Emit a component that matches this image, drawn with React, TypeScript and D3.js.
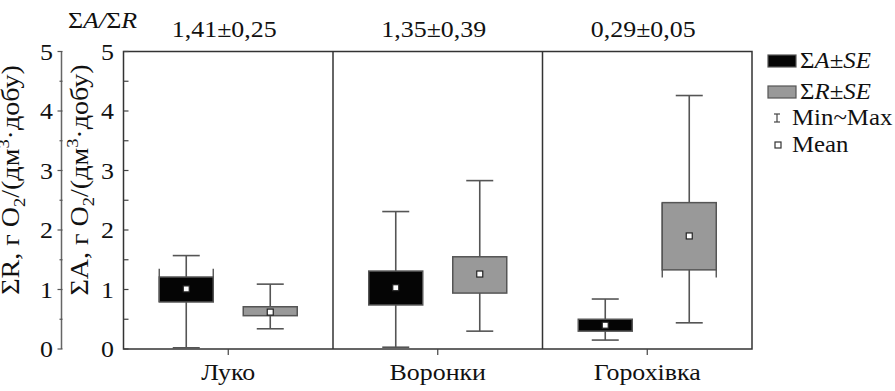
import React, { useEffect, useRef } from 'react';
import * as d3 from 'd3';

const categories = ['Луко', 'Воронки', 'Горохівка'];
const ratioLabels = ['1,41±0,25', '1,35±0,39', '0,29±0,05'];
const yTicks = [0, 1, 2, 3, 4, 5];
const yMinorTicks = [0.5, 1.5, 2.5, 3.5, 4.5];

// ΣA (black boxes)
const aMin = [0.02, 0.03, 0.15];
const aLow = [0.79, 0.74, 0.3];
const aMean = [1.01, 1.03, 0.4];
const aHigh = [1.21, 1.31, 0.5];
const aMax = [1.57, 2.31, 0.84];
const aEdge = [[0.79, 1.35], null, null];

// ΣR (grey boxes)
const rMin = [0.34, 0.3, 0.44];
const rLow = [0.56, 0.94, 1.33];
const rMean = [0.62, 1.26, 1.9];
const rHigh = [0.71, 1.55, 2.46];
const rMax = [1.09, 2.83, 4.26];
const rEdge = [null, null, [1.2, 2.46]];

const W = 895;
const H = 391;
const FONT = '"Liberation Serif", "Times New Roman", serif';
const FS = 24;
const SX = 1.08;

const App = () => {
    const ref = useRef(null);

    useEffect(() => {
        const svg = d3.select(ref.current);
        svg.selectAll('*').remove();

        const left = 123.5, right = 752, top = 51.5, bottom = 349;
        const outerAxisX = 61.5;

        const x = d3.scaleBand().domain(categories).range([left, right]).padding(0);
        const sub = d3.scalePoint().domain(['A', 'R']).range([-42, 42]);
        const y = d3.scaleLinear().domain([0, 5]).range([bottom, top]);
        const boxW = 54;
        const capW = 27;

        const txt = (g, px, py, anchor, rotate = false, fs = FS) => g.append('text')
            .attr('transform', `translate(${px},${py})${rotate ? ' rotate(-90)' : ''} scale(${SX},1)`)
            .attr('text-anchor', anchor)
            .attr('font-family', FONT)
            .attr('font-size', fs)
            .attr('fill', '#111');

        const series = [
            { key: 'A', min: aMin, low: aLow, mean: aMean, high: aHigh, max: aMax, edge: aEdge, fill: '#050505' },
            { key: 'R', min: rMin, low: rLow, mean: rMean, high: rHigh, max: rMax, edge: rEdge, fill: '#999999' },
        ];

        // frame
        const frame = svg.append('g').attr('stroke', '#333').attr('stroke-width', 1.5).attr('fill', 'none');
        frame.append('rect').attr('x', left).attr('y', top).attr('width', right - left).attr('height', bottom - top);
        categories.slice(1).forEach(c => {
            frame.append('line').attr('x1', x(c)).attr('x2', x(c)).attr('y1', top).attr('y2', bottom);
        });

        // inner y axis
        const inner = svg.append('g');
        yTicks.concat(yMinorTicks).forEach(t => {
            inner.append('line').attr('x1', left).attr('x2', left + 5)
                .attr('y1', y(t)).attr('y2', y(t)).attr('stroke', '#444').attr('stroke-width', 1.2);
        });
        yTicks.forEach(t => {
            txt(inner, 114, y(t) + 8, 'end').text(t);
        });

        // outer y axis
        const outer = svg.append('g');
        outer.append('line').attr('x1', outerAxisX).attr('x2', outerAxisX).attr('y1', top).attr('y2', bottom)
            .attr('stroke', '#666').attr('stroke-width', 1.5);
        yTicks.forEach(t => {
            outer.append('line').attr('x1', outerAxisX - 4).attr('x2', outerAxisX + 1)
                .attr('y1', y(t)).attr('y2', y(t)).attr('stroke', '#555').attr('stroke-width', 1.2);
            txt(outer, 53, y(t) + 8, 'end').text(t);
        });
        yMinorTicks.forEach(t => {
            outer.append('line').attr('x1', outerAxisX - 2).attr('x2', outerAxisX + 1)
                .attr('y1', y(t)).attr('y2', y(t)).attr('stroke', '#555').attr('stroke-width', 1.2);
        });

        // axis titles
        const title = (g, px, sym) => {
            const t = txt(g, px, 180, 'middle', true, 26);
            t.append('tspan').text(`Σ${sym}, г O`);
            t.append('tspan').attr('font-size', 17).attr('dy', 6).text('2');
            t.append('tspan').attr('dy', -6).text('/(дм');
            t.append('tspan').attr('font-size', 17).attr('dy', -10).text('3');
            t.append('tspan').attr('dy', 10).text('·добу)');
        };
        title(svg, 19, 'R');
        title(svg, 88, 'A');

        // top label
        const top1 = txt(svg, 68, 28, 'start');
        top1.append('tspan').text('Σ');
        top1.append('tspan').attr('font-style', 'italic').text('A/');
        top1.append('tspan').text('Σ');
        top1.append('tspan').attr('font-style', 'italic').text('R');

        categories.forEach((c, i) => {
            txt(svg, x(c) + x.bandwidth() / 2 - 4, 37, 'middle').text(ratioLabels[i]);
        });

        // category axis
        categories.forEach(c => {
            const cx = x(c) + x.bandwidth() / 2;
            svg.append('line').attr('x1', cx).attr('x2', cx).attr('y1', bottom).attr('y2', bottom + 6)
                .attr('stroke', '#444').attr('stroke-width', 1.2);
            txt(svg, cx, 380, 'middle').text(c);
        });

        // boxes
        series.forEach(s => {
            const g = svg.append('g');
            categories.forEach((c, i) => {
                const cx = x(c) + x.bandwidth() / 2 + sub(s.key);
                // whisker
                g.append('line').attr('x1', cx).attr('x2', cx).attr('y1', y(s.min[i])).attr('y2', y(s.max[i]))
                    .attr('stroke', '#555').attr('stroke-width', 1.6);
                [s.min[i], s.max[i]].forEach(v => {
                    g.append('line').attr('x1', cx - capW / 2).attr('x2', cx + capW / 2)
                        .attr('y1', y(v)).attr('y2', y(v)).attr('stroke', '#555').attr('stroke-width', 1.6);
                });
                if (s.edge[i]) {
                    [cx - boxW / 2, cx + boxW / 2].forEach(ex => {
                        g.append('line').attr('x1', ex).attr('x2', ex)
                            .attr('y1', y(s.edge[i][0])).attr('y2', y(s.edge[i][1]))
                            .attr('stroke', '#555').attr('stroke-width', 1.4);
                    });
                }
                g.append('rect').attr('x', cx - boxW / 2).attr('y', y(s.high[i]))
                    .attr('width', boxW).attr('height', y(s.low[i]) - y(s.high[i]))
                    .attr('fill', s.fill).attr('stroke', '#555').attr('stroke-width', 1.5);
                g.append('rect').attr('x', cx - 3).attr('y', y(s.mean[i]) - 3).attr('width', 6).attr('height', 6)
                    .attr('fill', '#fff').attr('stroke', '#222').attr('stroke-width', 1.2);
            });
        });

        // legend
        const lg = svg.append('g');
        const rowY = [61, 92, 118, 145];
        series.forEach((s, i) => {
            const ly = rowY[i];
            lg.append('rect').attr('x', 768).attr('y', ly - 6).attr('width', 28).attr('height', 12)
                .attr('fill', s.fill).attr('stroke', '#555').attr('stroke-width', 1.2);
            const t = txt(lg, 800, ly + 7, 'start', false, 23);
            t.append('tspan').text('Σ');
            t.append('tspan').attr('font-style', 'italic').text(s.key);
            t.append('tspan').text('±');
            t.append('tspan').attr('font-style', 'italic').text('SE');
        });
        const iy = rowY[2];
        lg.append('line').attr('x1', 777).attr('x2', 777).attr('y1', iy - 4).attr('y2', iy + 4).attr('stroke', '#444').attr('stroke-width', 1.2);
        [iy - 4, iy + 4].forEach(v => {
            lg.append('line').attr('x1', 774).attr('x2', 780).attr('y1', v).attr('y2', v).attr('stroke', '#444').attr('stroke-width', 1.2);
        });
        txt(lg, 792, iy + 7, 'start', false, 23).text('Min~Max');
        const my = rowY[3];
        lg.append('rect').attr('x', 775).attr('y', my - 3).attr('width', 6).attr('height', 6)
            .attr('fill', '#fff').attr('stroke', '#333').attr('stroke-width', 1.2);
        txt(lg, 792, my + 7, 'start', false, 23).text('Mean');
    }, []);

    return (
        <svg ref={ref} width={W} height={H}
            style={{ position: 'absolute', left: 0, top: 0, background: '#fff' }}></svg>
    );
};

export default App;
